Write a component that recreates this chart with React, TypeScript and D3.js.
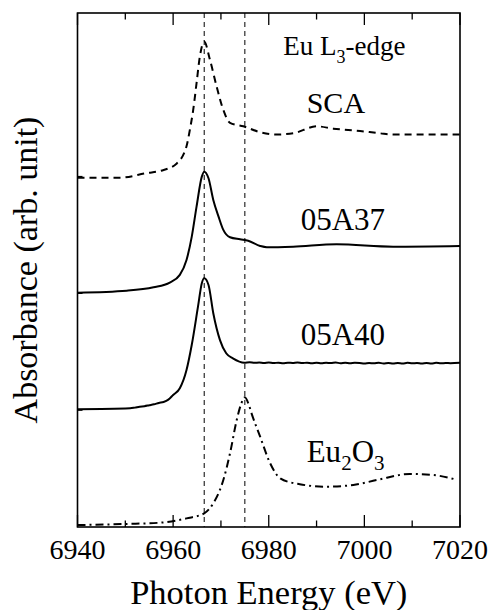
import React from "react";
import * as d3 from "d3";

// Photon energy (eV) and absorbance (arb. unit, curves offset vertically)
const scaE = [6940, 6948.9, 6954.5, 6957.5, 6960.7, 6962.8, 6963.5, 6964.2, 6964.9, 6965.6, 6966.5, 6967.7, 6969.1, 6970.5, 6971.9, 6974.7, 6978.2, 6981.7, 6985.1, 6990, 6993.5, 6999.1, 7003.3, 7006.1, 7020];
const scaA = [2.99, 2.99, 3.03, 3.05, 3.11, 3.26, 3.4, 3.57, 3.8, 4.03, 4.155, 4.0, 3.77, 3.57, 3.46, 3.43, 3.38, 3.36, 3.37, 3.43, 3.41, 3.39, 3.37, 3.36, 3.36];

const a37E = [6940, 6950.3, 6955.9, 6959.3, 6961.4, 6962.8, 6963.9, 6964.9, 6966.0, 6966.5, 6967.4, 6968.4, 6969.5, 6970.5, 6971.9, 6974.0, 6975.7, 6978.2, 6979.6, 6985.1, 6994.2, 7006, 7020];
const a37A = [2.006, 2.023, 2.052, 2.092, 2.158, 2.286, 2.486, 2.742, 2.999, 3.042, 2.985, 2.8, 2.657, 2.543, 2.48, 2.463, 2.451, 2.406, 2.395, 2.4, 2.42, 2.4, 2.406];

const a40E = [6940, 6951, 6952, 6953, 6954, 6955, 6956, 6957, 6958, 6959, 6960, 6961.4, 6962.8, 6963.9, 6965.2, 6966.0, 6966.5, 6967.4, 6968.4, 6969.8, 6971.1, 6972.5, 6974.9, 6976, 6977, 6978, 6979, 6980, 6981, 6982, 6983, 6984, 6985, 6986, 6987, 6988, 6989, 6990, 6991, 6992, 6993, 6994, 6995, 6996, 6997, 6998, 6999, 7000, 7001, 7002, 7003, 7004, 7005, 7006, 7007, 7008, 7009, 7010, 7011, 7012, 7013, 7014, 7015, 7016, 7017, 7018, 7020];
const a40A = [1.008, 1.016, 1.022, 1.03, 1.034, 1.042, 1.05, 1.062, 1.07, 1.09, 1.13, 1.188, 1.344, 1.56, 1.886, 2.087, 2.129, 2.072, 1.83, 1.6, 1.487, 1.444, 1.407, 1.41, 1.405, 1.409, 1.404, 1.408, 1.403, 1.407, 1.402, 1.406, 1.404, 1.409, 1.403, 1.407, 1.402, 1.405, 1.401, 1.406, 1.403, 1.408, 1.402, 1.406, 1.401, 1.405, 1.403, 1.399, 1.404, 1.401, 1.406, 1.4, 1.404, 1.399, 1.403, 1.4, 1.405, 1.401, 1.404, 1.399, 1.403, 1.4, 1.405, 1.401, 1.404, 1.402, 1.406];

const euE = [6940, 6950.3, 6957.3, 6962.8, 6966.5, 6968.4, 6970.5, 6971.9, 6973.3, 6974.2, 6975, 6975.8, 6976.4, 6978.2, 6980.3, 6982.4, 6986.5, 6992.1, 6997.7, 7002.6, 7009.5, 7014.4, 7019];
const euA = [0.017, 0.026, 0.037, 0.074, 0.117, 0.203, 0.402, 0.631, 0.916, 1.05, 1.11, 1.05, 0.973, 0.773, 0.545, 0.417, 0.366, 0.345, 0.36, 0.402, 0.454, 0.445, 0.408];

const refLines = [6966.5, 6975];
const xTicks = [6940, 6950, 6960, 6970, 6980, 6990, 7000, 7010, 7020];
const xLabels = [6940, 6960, 6980, 7000, 7020];
const yTicks = [1, 2, 3];

const W = 489, H = 610;
const L = 77.5, R = 460, T = 13, B = 527;
const ts = { fontFamily: `"Liberation Serif", "Times New Roman", monospace` };

export default function App() {
  const x = d3.scaleLinear().domain([6940, 7020]).range([L, R]);
  const y = d3.scaleLinear().domain([0, 4.4]).range([B, T]);
  const line = d3.line<[number, number]>().x(d => x(d[0])).y(d => y(d[1])).curve(d3.curveMonotoneX);
  const mk = (e: number[], a: number[]) => line(e.map((v, i) => [v, a[i]] as [number, number])) || "";

  return (
    <svg width={W} height={H} style={{ position: "absolute", left: 0, top: 0 }}>
      <rect x={0} y={0} width={W} height={H} fill="#fff" />
      {refLines.map(v => (
        <line key={v} x1={x(v)} x2={x(v)} y1={T} y2={B} stroke="#000" strokeWidth={1} strokeDasharray="5,4" />
      ))}
      <path d={mk(scaE, scaA)} fill="none" stroke="#000" strokeWidth={2} strokeDasharray="7,5" />
      <path d={mk(a37E, a37A)} fill="none" stroke="#000" strokeWidth={2} />
      <path d={mk(a40E, a40A)} fill="none" stroke="#000" strokeWidth={2} />
      <path d={mk(euE, euA)} fill="none" stroke="#000" strokeWidth={2} strokeDasharray="8,4,2,4" />

      <rect x={L} y={T} width={R - L} height={B - T} fill="none" stroke="#000" strokeWidth={1.6} />
      {xTicks.map(v => {
        const major = xLabels.includes(v);
        const len = major ? 12 : 6.5;
        return (
          <g key={v}>
            <line x1={x(v)} x2={x(v)} y1={B} y2={B - len} stroke="#000" strokeWidth={1.3} />
            <line x1={x(v)} x2={x(v)} y1={T} y2={T + len} stroke="#000" strokeWidth={1.3} />
          </g>
        );
      })}
      {yTicks.map(v => (
        <line key={v} x1={L} x2={L + 5} y1={y(v)} y2={y(v)} stroke="#000" strokeWidth={1.3} />
      ))}
      {xLabels.map(v => (
        <text key={v} style={ts} x={x(v)} y={559} fontSize={28} textAnchor="middle">{v}</text>
      ))}
      <text style={ts} x={(L + R) / 2} y={604} fontSize={34.5} textAnchor="middle">Photon Energy (eV)</text>
      <text style={ts} transform={`translate(37,${(T + B) / 2}) rotate(-90)`} fontSize={34} textAnchor="middle">Absorbance (arb. unit)</text>

      <text style={ts} x={283.3} y={55} fontSize={27}>Eu L<tspan fontSize={18} dy={8}>3</tspan><tspan dy={-8}>-edge</tspan></text>
      <text style={ts} x={306.7} y={113} fontSize={30}>SCA</text>
      <text style={ts} x={300.7} y={230} fontSize={31}>05A37</text>
      <text style={ts} x={300.7} y={345} fontSize={31}>05A40</text>
      <text style={ts} x={306.7} y={461.7} fontSize={31}>Eu<tspan fontSize={21} dy={8}>2</tspan><tspan dy={-8}>O</tspan><tspan fontSize={21} dy={8}>3</tspan></text>
    </svg>
  );
}
